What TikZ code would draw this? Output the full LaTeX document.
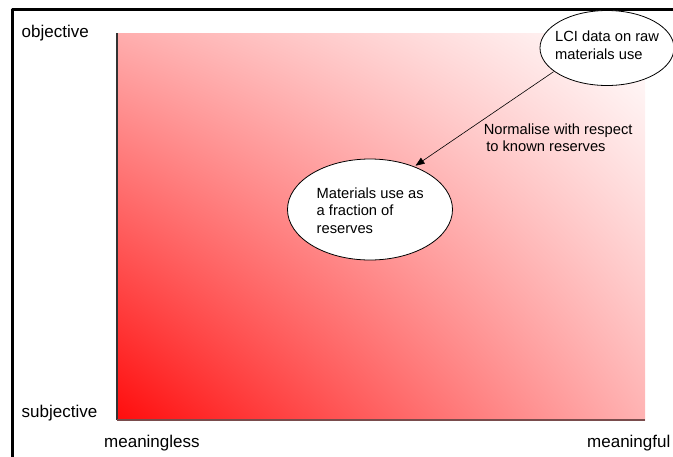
\documentclass[tikz,border=0pt]{standalone}
\usepackage{fontspec}
\setmainfont{Liberation Sans}
\usetikzlibrary{arrows.meta,positioning,shapes.geometric,shadings}

\begin{document}
\begin{tikzpicture}[x=1pt,y=-1pt,>=Triangle,line join=round]
\useasboundingbox (0,0) rectangle (673,456);
\tikzset{
  axislabel/.style={font=\fontsize{17}{20}\selectfont,inner sep=0pt},
  bubble/.style={draw,fill=white,ellipse,line width=0.8pt,inner sep=0pt},
  bubbletext/.style={font=\fontsize{14.7}{17.5}\selectfont,align=left,inner sep=0pt}
}
% outer frame (runs past the page edge)
\draw[line width=2.5pt] (12.5,9.5) rectangle (690,470);
% shaded field
\shade[lower left=red!95!white,lower right=red!30!white,upper left=red!32!white,upper right=white]
  (117,33) rectangle (645,420);
\draw[gray!40!black,line width=1.4pt] (117,33) -- (117,420);
\draw[red!25!black!70,line width=2pt] (117,420) -- (645,420);
% axis labels
\node[axislabel,anchor=west] (obj) at (21.5,33) {objective};
\node[axislabel,anchor=west] (subj) at (21.5,413) {subjective};
\node[axislabel,anchor=west] (mless) at (104,443) {meaningless};
\node[axislabel,anchor=west] (mful) at (587,443) {meaningful};
% bubbles
\node[bubble,minimum width=134pt,minimum height=75pt] (lci) at (607,48) {};
\node[bubbletext,anchor=west] (lcitext) at (555,45) {LCI data on raw\\materials use};
\node[bubble,minimum width=165pt,minimum height=101pt] (frac) at (370,209.5) {};
\node[bubbletext,anchor=west] (fractext) at (316.5,210.5) {Materials use as\\a fraction of\\reserves};
% normalisation step
\coordinate (from) at (553.6,71.7);
\coordinate (to) at (415.5,165.7);
\draw[line width=0.6pt,-{Triangle[length=9pt,width=7pt]}] (from) -- (to);
\node[bubbletext,anchor=west] (norm) at (483.6,137.5) {Normalise with respect\\\hspace*{2.5pt}to known reserves};
\end{tikzpicture}
\end{document}
